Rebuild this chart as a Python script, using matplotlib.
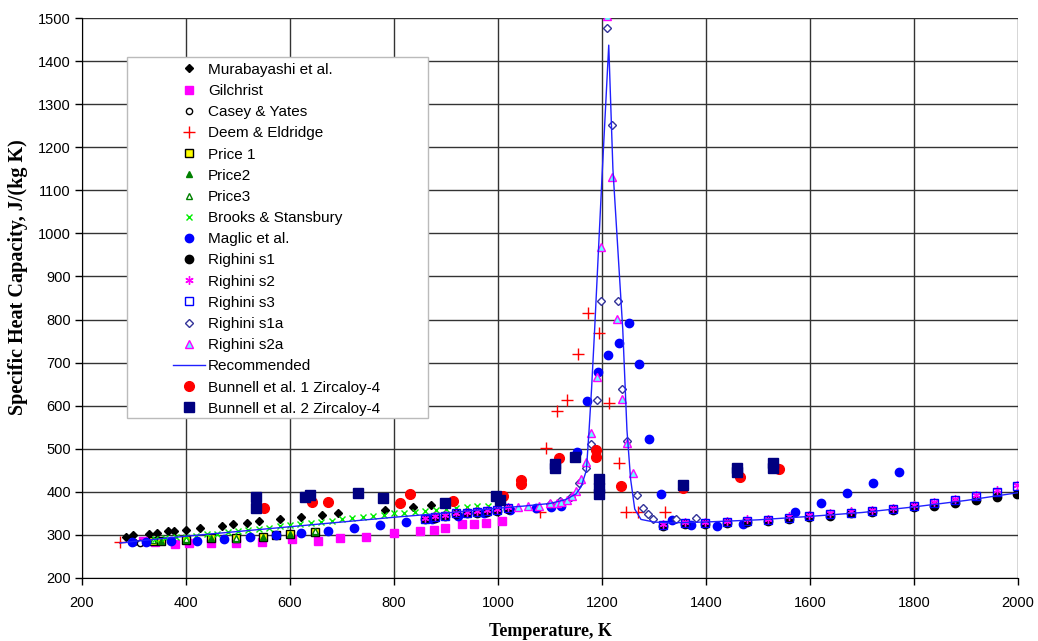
# -*- coding: utf-8 -*-
# specific heat capacity of zircaloy vs temperature, many data sets + recommended curve

import numpy as np
import matplotlib.pyplot as plt
from matplotlib.patches import Rectangle

# ---- data (T in K, Cp in J/(kg K)) ----
mura_T = [285, 299, 328, 344, 366, 377, 400, 427, 469, 491, 517, 541, 581, 622, 661, 693, 783, 837, 871]
mura_cp = [296, 300, 302, 304, 310, 310, 311, 315, 321, 325, 327, 332, 336, 342, 346, 350, 358, 364, 369]

gil_T = [318, 340, 379, 406, 449, 497, 546, 603, 654, 697, 747, 800, 850, 876, 899, 931, 954, 977, 1007]
gil_cp = [285, 283, 280, 281, 282, 282, 284, 290, 286, 292, 296, 304, 308, 312, 315, 325, 325, 328, 333]

casey_T = [300, 312, 325]
casey_cp = [283, 281, 283]

deem_T = [273, 1081, 1092, 1113, 1132, 1153, 1174, 1195, 1213, 1233, 1247, 1270, 1321]
deem_cp = [283, 354, 501, 588, 613, 720, 815, 768, 607, 468, 354, 354, 354]

price1_T = [337, 352, 400, 449, 497, 549, 574, 600, 648]
price1_cp = [287, 287, 289, 293, 292, 296, 299, 303, 307]

price2_T = [352, 400, 449, 497, 549, 600, 648]
price2_cp = [286, 288, 292, 291, 295, 302, 306]

price3_T = [337, 400, 497, 574, 648]
price3_cp = [288, 290, 293, 300, 308]

brooks_T = [340, 360, 380, 400, 420, 440, 460, 480, 500, 520, 540, 560, 580, 600, 620, 640, 660,
            680, 700, 720, 740, 760, 780, 800, 820, 840, 860, 880, 900, 920, 940, 960, 980]
brooks_cp = [290, 292, 294, 296, 298, 301, 303, 306, 309, 312, 314, 317, 320, 323, 325, 328, 331,
             333, 336, 339, 341, 344, 347, 350, 352, 354, 356, 358, 360, 362, 364, 366, 368]

maglic_T = [297, 323, 372, 422, 473, 523, 573, 622, 674, 723, 773, 823, 873, 923, 973, 1023, 1073,
            1101, 1122, 1151, 1172, 1193, 1212, 1233, 1252, 1272, 1291, 1313, 1334, 1372, 1422, 1472,
            1571, 1622, 1672, 1722, 1772]
maglic_cp = [284, 284, 285, 287, 290, 296, 299, 305, 309, 317, 322, 329, 337, 345, 352, 358, 362,
             365, 368, 493, 611, 679, 718, 746, 791, 696, 522, 395, 335, 323, 321, 325,
             354, 373, 397, 421, 445]

rig_T = [860, 879, 899, 920, 940, 960, 979, 999, 1020,
         1318, 1360, 1399, 1440, 1479, 1520, 1560, 1599, 1638, 1679, 1719, 1760, 1800, 1839, 1879, 1919, 1959, 1999]
rig_s1_cp = [336, 340, 343, 348, 350, 352, 354, 356, 360,
             321, 325, 326, 327, 331, 333, 338, 342, 345, 350, 354, 357, 364, 366, 373, 380, 387, 395]
rig_s2_cp = [340, 344, 347, 352, 354, 356, 358, 360, 364,
             326, 330, 331, 332, 336, 338, 343, 347, 351, 355, 359, 363, 369, 376, 384, 393, 404, 416]
rig_s3_cp = [338, 342, 345, 350, 352, 354, 356, 358, 362,
             323, 327, 328, 329, 333, 335, 340, 344, 348, 352, 356, 360, 366, 373, 381, 390, 400, 414]

s1a_T = [1100, 1120, 1140, 1155, 1169, 1179, 1190, 1199, 1210, 1220, 1230, 1238, 1249, 1268, 1279, 1289, 1299, 1342, 1381]
s1a_cp = [372, 378, 388, 420, 455, 511, 613, 844, 1476, 1252, 844, 639, 517, 393, 363, 349, 336, 337, 340]

s2a_T = [1039, 1058, 1079, 1100, 1113, 1122, 1132, 1142, 1150, 1160, 1169, 1178, 1190, 1198, 1209, 1220, 1229, 1239, 1249, 1260]
s2a_cp = [365, 367, 367, 373, 375, 377, 381, 390, 402, 429, 470, 537, 667, 968, 1505, 1130, 801, 616, 513, 443]

rec_T = [273, 300, 400, 500, 600, 700, 800, 900, 1000, 1050, 1100, 1130, 1150, 1160, 1170, 1175, 1180,
         1186, 1200, 1213, 1221, 1240, 1248, 1255, 1263, 1275, 1300, 1330, 1400, 1500, 1600, 1700,
         1800, 1900, 2000]
rec_cp = [281, 285, 297, 308, 319, 330, 341, 351, 362, 367, 373, 382, 395, 412, 450, 540, 640,
          780, 1130, 1437, 1150, 776, 544, 430, 360, 336, 330, 328, 330, 335, 343, 352,
          365, 380, 398]

bun1_T = [550, 642, 674, 812, 831, 914, 1010, 1044, 1044, 1118, 1188, 1188, 1237, 1356, 1465, 1541]
bun1_cp = [363, 376, 376, 373, 394, 379, 391, 428, 418, 479, 496, 482, 414, 410, 435, 453]

bun2_T = [535, 535, 629, 638, 730, 778, 898, 997, 1004, 1110, 1110, 1149, 1195, 1195, 1195, 1356,
          1459, 1459, 1529, 1529]
bun2_cp = [389, 362, 389, 393, 398, 385, 375, 391, 381, 464, 455, 480, 430, 410, 395, 416,
           456, 446, 466, 455]

fig = plt.figure(figsize=(10.38, 6.41), dpi=100)
ax = fig.add_axes([0.079, 0.0983, 0.9017, 0.8736])

mk = dict(linestyle='none')
ax.plot(mura_T, mura_cp, marker='D', ms=4, color='black', label='Murabayashi et al.', **mk)
ax.plot(gil_T, gil_cp, marker='s', ms=6, color='#ff00ff', label='Gilchrist', **mk)
ax.plot(casey_T, casey_cp, marker='o', ms=4.5, mfc='white', mec='black', mew=1, label='Casey & Yates', **mk)
ax.plot(deem_T, deem_cp, marker='+', ms=8, mew=1, color='#ff0000', label='Deem & Eldridge', **mk)
ax.plot(price1_T, price1_cp, marker='s', ms=5.5, mfc='#ffff00', mec='black', mew=1, label='Price 1', **mk)
ax.plot(price2_T, price2_cp, marker='^', ms=4.5, color='#008000', label='Price2', **mk)
ax.plot(price3_T, price3_cp, marker='^', ms=4.5, mfc='white', mec='#008000', mew=1, label='Price3', **mk)
ax.plot(brooks_T, brooks_cp, marker='x', ms=5, mew=1, color='#00ee00', label='Brooks & Stansbury', **mk)
ax.plot(maglic_T, maglic_cp, marker='o', ms=6, color='#0000ff', label='Maglic et al.', **mk)
ax.plot(rig_T, rig_s1_cp, marker='o', ms=6, color='black', label='Righini s1', **mk)
ax.plot(rig_T, rig_s2_cp, marker=(6, 2, 0), ms=6, mew=1, color='#ff00ff', label='Righini s2', **mk)
ax.plot(rig_T, rig_s3_cp, marker='s', ms=5.5, mfc='none', mec='#0000ff', mew=1, label='Righini s3', **mk)
ax.plot(s1a_T, s1a_cp, marker='D', ms=4, mfc='white', mec='#333399', mew=1, label='Righini s1a', **mk)
ax.plot(s2a_T, s2a_cp, marker='^', ms=5.5, mfc='#66ffff', mec='#ff00ff', mew=1, label='Righini s2a', **mk)
ax.plot(rec_T, rec_cp, color='#2020ff', lw=1, label='Recommended')
ax.plot(bun1_T, bun1_cp, marker='o', ms=7, color='#ff0000', label='Bunnell et al. 1 Zircaloy-4', **mk)
ax.plot(bun2_T, bun2_cp, marker='s', ms=7, color='#000080', label='Bunnell et al. 2 Zircaloy-4', **mk)

ax.set_xlim(200, 2000)
ax.set_ylim(200, 1500)
ax.set_xticks(np.arange(200, 2001, 200))
ax.set_yticks(np.arange(200, 1501, 100))
ax.grid(True, color='#333333', lw=1)
ax.set_axisbelow(True)
for s in ['top', 'right']:
    ax.spines[s].set_visible(False)
for s in ['left', 'bottom']:
    ax.spines[s].set_color('black')
ax.tick_params(direction='out', length=5, width=1, labelsize=10.5, pad=3)
ax.tick_params(axis='x', pad=8)
for lab in ax.get_xticklabels() + ax.get_yticklabels():
    lab.set_family('Liberation Sans')

ax.set_xlabel('Temperature, K', family='Liberation Serif', fontweight='bold', fontsize=13, labelpad=9)
ax.set_ylabel('Specific Heat Capacity, J/(kg K)', family='Liberation Serif', fontweight='bold',
              fontsize=14.5)
ax.yaxis.set_label_coords(-0.058, 0.5375)

# legend box drawn separately (wide left padding like the original)
ax.add_patch(Rectangle((0.048, 0.286), 0.322, 0.644, transform=ax.transAxes,
                       facecolor='white', edgecolor='#bbbbbb', lw=1, zorder=4))
leg = ax.legend(loc='upper left', bbox_to_anchor=(0.097, 0.920), frameon=False,
                prop={'family': 'Liberation Sans', 'size': 11}, handlelength=2.1,
                handletextpad=0.2, labelspacing=0.47, borderaxespad=0, borderpad=0)
leg.set_zorder(5)

fig.savefig('out.png', dpi=100)
